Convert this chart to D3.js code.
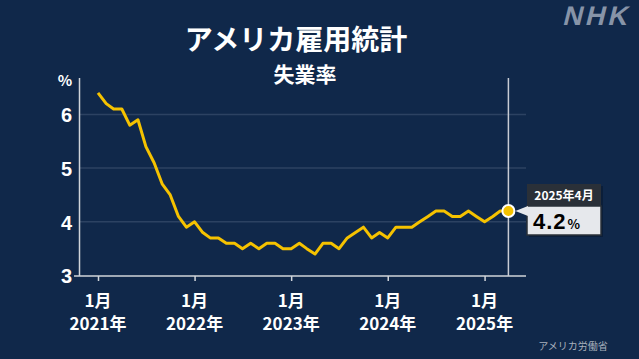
<!DOCTYPE html>
<html lang="ja">
<head>
<meta charset="utf-8" />
<style>
  body {margin:0; background:#10284a;}
  svg {display:block;}
  text {font-family: "Noto Sans CJK JP", "Liberation Sans", sans-serif; font-weight:bold; fill:#fff;}
</style>
<script src="https://cdn.jsdelivr.net/npm/d3@7/dist/d3.min.js"></script>
</head>
<body>
<svg></svg>
<script>
var width = 639,
    height = 359;

// monthly unemployment rate, Jan 2021 - Apr 2025
var startMonth = "2021-01";
var rates = [
  6.4, 6.2, 6.1, 6.1, 5.8, 5.9, 5.4, 5.1, 4.7, 4.5, 4.1, 3.9,
  4.0, 3.8, 3.7, 3.7, 3.6, 3.6, 3.5, 3.6, 3.5, 3.6, 3.6, 3.5,
  3.5, 3.6, 3.5, 3.4, 3.6, 3.6, 3.5, 3.7, 3.8, 3.9, 3.7, 3.8,
  3.7, 3.9, 3.9, 3.9, 4.0, 4.1, 4.2, 4.2, 4.1, 4.1, 4.2, 4.1,
  4.0, 4.1, 4.2, 4.2
];
var yTicks = [3, 4, 5, 6];
var gridValues = [4, 5, 6];
var yearTicks = ["2021", "2022", "2023", "2024", "2025"];

var title = "アメリカ雇用統計",
    subtitle = "失業率",
    source = "アメリカ労働省",
    latestLabel = "2025年4月";

var parseMonth = d3.timeParse("%Y-%m");
var start = parseMonth(startMonth);
var data = rates.map(function(v, i) {
  return {date: d3.timeMonth.offset(start, i), value: v};
});
var last = data[data.length - 1];

var x = d3.scaleTime()
    .domain([start, last.date])
    .range([98, 508.4]);

var y = d3.scaleLinear()
    .domain([3, 6])
    .range([275.5, 114.4]);

var svg = d3.select("svg")
    .attr("width", width)
    .attr("height", height);

svg.append("rect")
    .attr("width", width).attr("height", height)
    .attr("fill", "#10284a");

// logo
svg.append("text")
    .attr("x", 596).attr("y", 25)
    .attr("text-anchor", "middle")
    .attr("transform", "skewX(-14) translate(6,0)")
    .style("font-family", "Liberation Sans, sans-serif")
    .style("font-size", "27px")
    .style("font-weight", "900")
    .style("letter-spacing", "3px")
    .style("fill", "#8794a8")
    .text("NHK");

svg.append("text")
    .attr("x", 296).attr("y", 50)
    .attr("text-anchor", "middle")
    .style("font-size", "28px")
    .text(title);

svg.append("text")
    .attr("x", 305).attr("y", 82)
    .attr("text-anchor", "middle")
    .style("font-size", "21px")
    .text(subtitle);

svg.append("text")
    .attr("x", 65).attr("y", 86)
    .attr("text-anchor", "middle")
    .style("font-size", "15px")
    .text("%");

// grid
svg.append("g").selectAll("line")
    .data(gridValues)
  .enter().append("line")
    .attr("x1", 80).attr("x2", 526)
    .attr("y1", function(d) {return y(d)})
    .attr("y2", function(d) {return y(d)})
    .attr("stroke", "#2c4262")
    .attr("stroke-width", 1.5);

// y axis labels
var yAxis = svg.append("g")
    .attr("transform", "translate(79,0)")
    .call(d3.axisLeft(y).tickValues(yTicks).tickSize(0).tickPadding(7).tickFormat(d3.format("d")));
yAxis.select(".domain").remove();
yAxis.selectAll("text")
    .attr("dy", "0.36em")
    .style("font-family", "Liberation Sans, sans-serif")
    .style("font-size", "20px")
    .style("font-weight", "bold")
    .attr("fill", "#fff");

// y axis line
svg.append("line")
    .attr("x1", 79.5).attr("x2", 79.5)
    .attr("y1", 78).attr("y2", 276)
    .attr("stroke", "#d0d4da").attr("stroke-width", 1.5);

// x axis
var xAxis = svg.append("g")
    .attr("transform", "translate(0,276)")
    .call(d3.axisBottom(x)
      .tickValues(yearTicks.map(function(d) {return parseMonth(d + "-01")}))
      .tickSize(5)
      .tickFormat(""));
xAxis.select(".domain").remove();
xAxis.selectAll("line").attr("stroke", "#d0d4da").attr("stroke-width", 1.5);
xAxis.append("line")
    .attr("x1", 74).attr("x2", 526)
    .attr("stroke", "#d0d4da").attr("stroke-width", 1.5);

var xLabels = svg.append("g").selectAll("text")
    .data(yearTicks)
  .enter().append("text")
    .attr("text-anchor", "middle")
    .style("font-size", "17px");
xLabels.append("tspan")
    .attr("x", function(d) {return x(parseMonth(d + "-01"))})
    .attr("y", 307)
    .text("1月");
xLabels.append("tspan")
    .attr("x", function(d) {return x(parseMonth(d + "-01"))})
    .attr("y", 330)
    .text(function(d) {return d + "年"});

// marker line
svg.append("line")
    .attr("x1", x(last.date)).attr("x2", x(last.date))
    .attr("y1", 78).attr("y2", 276)
    .attr("stroke", "#c8ccd4").attr("stroke-width", 1.5);

// data line
var line = d3.line()
    .x(function(d) {return x(d.date)})
    .y(function(d) {return y(d.value)});

svg.append("path")
    .datum(data)
    .attr("d", line)
    .attr("fill", "none")
    .attr("stroke", "#f5c200")
    .attr("stroke-width", 3)
    .attr("stroke-linejoin", "round");

svg.append("circle")
    .attr("cx", x(last.date)).attr("cy", y(last.value))
    .attr("r", 6)
    .attr("fill", "#f5c200")
    .attr("stroke", "#fff").attr("stroke-width", 2);

// callout
var bx = 527, by = 184, bw = 74;
var callout = svg.append("g");
callout.append("rect")
    .attr("x", bx + 2).attr("y", by + 2)
    .attr("width", bw).attr("height", 51)
    .attr("fill", "#08182e").attr("opacity", 0.6);
callout.append("rect")
    .attr("x", bx).attr("y", by)
    .attr("width", bw).attr("height", 22)
    .attr("fill", "#2a3038");
callout.append("rect")
    .attr("x", bx).attr("y", by + 22)
    .attr("width", bw).attr("height", 29)
    .attr("fill", "#e6e8ec")
    .attr("stroke", "#2a3038").attr("stroke-width", 1.5);
callout.append("path")
    .attr("d", "M" + (x(last.date) + 7) + "," + y(last.value) + "L" + (bx + 1) + "," + (y(last.value) - 5) + "L" + (bx + 1) + "," + (y(last.value) + 5) + "Z")
    .attr("fill", "#e6e8ec");
callout.append("text")
    .attr("x", bx + 37).attr("y", by + 16)
    .attr("text-anchor", "middle")
    .style("font-size", "12px")
    .text(latestLabel);
var val = callout.append("text")
    .attr("x", bx + 6).attr("y", by + 45)
    .style("fill", "#000");
val.append("tspan")
    .style("font-family", "Liberation Sans, sans-serif")
    .style("font-size", "22px")
    .style("letter-spacing", "1px")
    .text(d3.format(".1f")(last.value));
val.append("tspan")
    .attr("dx", 1)
    .style("font-size", "13px")
    .text("%");

svg.append("text")
    .attr("x", 573).attr("y", 350)
    .attr("text-anchor", "middle")
    .style("font-size", "10px")
    .style("font-weight", "normal")
    .style("fill", "#a8b0bc")
    .text(source);
</script>
</body>
</html>
